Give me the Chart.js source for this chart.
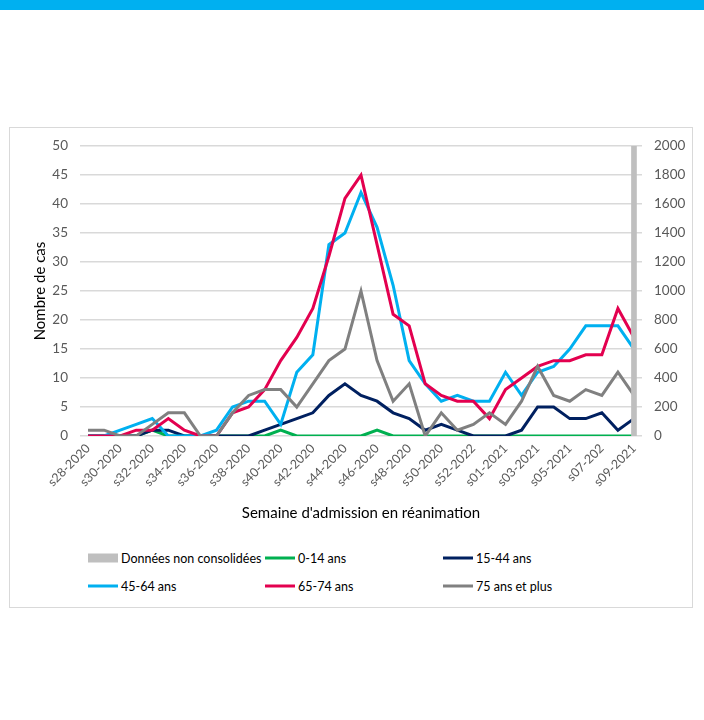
<!DOCTYPE html>
<html lang="fr">
<head>
<meta charset="utf-8">
<title>Admissions en réanimation par classe d'âge</title>
<script src="https://cdn.jsdelivr.net/npm/chart.js@4/dist/chart.umd.min.js"></script>
<style>
  html, body { margin: 0; padding: 0; background: #fff; width: 704px; height: 720px; overflow: hidden; }
  body { font-family: Lato, "Open Sans", sans-serif; position: relative; }
  .topbar { position: absolute; left: 0; top: 0; width: 704px; height: 10px; background: #00b0f0; }
  .frame { position: absolute; left: 9px; top: 127px; width: 682px; height: 479px; border: 1px solid #d9d9d9; }
  .wrap { position: absolute; left: 10px; top: 126px; width: 682px; height: 402px; }
  #legend { position: absolute; left: 0; top: 0; font-size: 12.5px; color: #000; }
  .lg-item { position: absolute; display: flex; align-items: center; white-space: nowrap; transform: translateY(-50%); }
  .lg-sym { width: 30px; margin-right: 3px; }
</style>
</head>
<body>
<div class="topbar"></div>
<div class="frame"></div>
<div class="wrap"><canvas id="chart" width="682" height="402"></canvas></div>
<div id="legend"></div>
<script>
// Semaines d'admission (les libellés affichés reprennent ceux de la figure).
const WEEKS = [
  "s28-2020", "s29-2020", "s30-2020", "s31-2020", "s32-2020", "s33-2020", "s34-2020",
  "s35-2020", "s36-2020", "s37-2020", "s38-2020", "s39-2020", "s40-2020", "s41-2020",
  "s42-2020", "s43-2020", "s44-2020", "s45-2020", "s46-2020", "s47-2020", "s48-2020",
  "s49-2020", "s50-2020", "s51-2020", "s52-2022", "s53-2020", "s01-2021", "s02-2021",
  "s03-2021", "s04-2021", "s05-2021", "s06-2021", "s07-202", "s08-2021", "s09-2021"
];

// Nombre de cas par classe d'âge (axe de gauche).
const AGE_0_14  = [0,0,0,0,1,0,0,0,0,0,0,0,1,0,0,0,0,0,1,0,0,0,0,0,0,0,0,0,0,0,0,0,0,0,0];
const AGE_15_44 = [0,0,0,0,1,1,0,0,0,0,0,1,2,3,4,7,9,7,6,4,3,1,2,1,0,0,0,1,5,5,3,3,4,1,3];
const AGE_45_64 = [0,0,1,2,3,0,0,0,1,5,6,6,2,11,14,33,35,42,36,26,13,9,6,7,6,6,11,7,11,12,15,19,19,19,15];
const AGE_65_74 = [0,0,0,1,1,3,1,0,0,4,5,8,13,17,22,31,41,45,33,21,19,9,7,6,6,3,8,10,12,13,13,14,14,22,17];
const AGE_75P   = [1,1,0,0,2,4,4,0,0,4,7,8,8,5,9,13,15,25,13,6,9,0,4,1,2,4,2,6,12,7,6,8,7,11,7];

// Barre "données non consolidées" (axe de droite), seulement la dernière semaine.
const NON_CONSOLIDE = WEEKS.map((w, i) => i === WEEKS.length - 1 ? 2000 : null);

const TICK = "#595959", GRID = "#d9d9d9", FONT = "Lato, 'Open Sans', sans-serif";

const line = (label, data, color, order) => ({
  type: "line", label, data, borderColor: color, backgroundColor: color,
  borderWidth: 3, pointRadius: 0, tension: 0, yAxisID: "y", order,
});

const datasets = [
  { type: "bar", label: "Données non consolidées", data: NON_CONSOLIDE,
    backgroundColor: "#bfbfbf", barThickness: 5, yAxisID: "y2", order: 0 },
  line("0-14 ans", AGE_0_14, "#00b050", 5),
  line("15-44 ans", AGE_15_44, "#002060", 4),
  line("45-64 ans", AGE_45_64, "#00b0f0", 3),
  line("65-74 ans", AGE_65_74, "#e3004f", 2),
  line("75 ans et plus", AGE_75P, "#808080", 1),
];

const chart = new Chart(document.getElementById("chart"), {
  data: { labels: WEEKS, datasets },
  options: {
    responsive: false, animation: false,
    layout: { padding: { top: 15, left: 0, right: 0, bottom: 0 } },
    plugins: { legend: { display: false }, tooltip: { enabled: false } },
    scales: {
      x: {
        offset: true,
        grid: { display: false, drawTicks: false },
        border: { display: false },
        ticks: {
          color: TICK, font: { family: FONT, size: 12.5 }, padding: 5,
          minRotation: 45, maxRotation: 45, autoSkip: false,
          callback: (v, i) => i % 2 === 0 ? WEEKS[i] : "",
        },
        title: { display: true, text: "Semaine d'admission en réanimation", color: "#000",
                 font: { family: FONT, size: 15 }, padding: { top: 0, bottom: 6 } },
        afterFit: s => { s.height = 92; },
      },
      y: {
        position: "left", min: 0, max: 50,
        grid: { color: GRID, lineWidth: 1.5, drawTicks: false },
        border: { display: false },
        ticks: { stepSize: 5, color: TICK, padding: 12, font: { family: FONT, size: 13.5 } },
        title: { display: true, text: "Nombre de cas", color: "#000",
                 font: { family: FONT, size: 15 }, padding: { top: 21, bottom: 0 } },
        afterFit: s => { s.width = 70; },
      },
      y2: {
        position: "right", min: 0, max: 2000,
        grid: { display: false, drawTicks: false },
        border: { display: false },
        ticks: { stepSize: 200, color: TICK, padding: 12, font: { family: FONT, size: 13.5 },
                 callback: v => String(v) },
        afterFit: s => { s.width = 50; },
      },
    },
  },
});

// Légende sur deux lignes, trois colonnes, comme dans la figure.
const LEGEND_COLS = [88, 265, 443];
const LEGEND_ROWS = [558, 586];
const legend = document.getElementById("legend");
chart.data.datasets.forEach((ds, i) => {
  const item = document.createElement("div");
  item.className = "lg-item";
  item.style.left = LEGEND_COLS[i % 3] + "px";
  item.style.top = LEGEND_ROWS[Math.floor(i / 3)] + "px";
  const sym = document.createElement("span");
  sym.className = "lg-sym";
  if (ds.type === "bar") { sym.style.height = "9px"; sym.style.background = ds.backgroundColor; }
  else { sym.style.height = "3px"; sym.style.background = ds.borderColor; }
  item.appendChild(sym);
  item.appendChild(document.createTextNode(ds.label));
  legend.appendChild(item);
});
</script>
</body>
</html>
